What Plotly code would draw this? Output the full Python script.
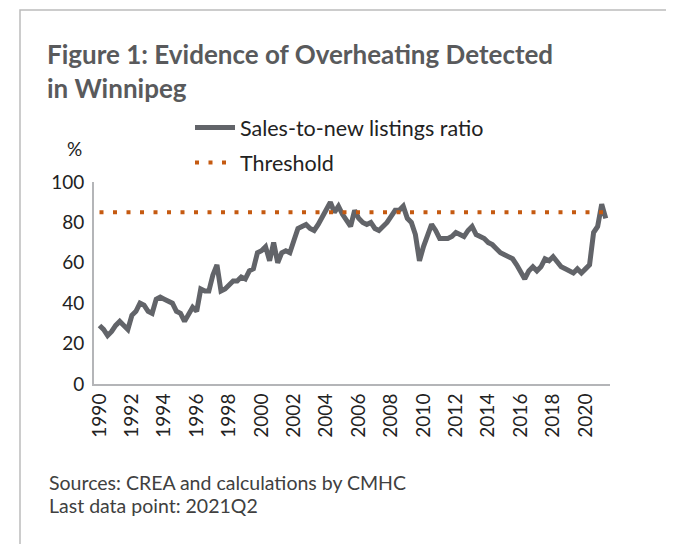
import plotly.graph_objects as go

# Quarterly sales-to-new listings ratio, Winnipeg, 1990Q1 - 2021Q2
quarters = [f"{y}Q{q}" for y in range(1990, 2022) for q in range(1, 5)][:126]
ratio = [
    29, 27, 24, 26,   # 1990
    29, 31, 29, 27,   # 1991
    34, 36, 40, 39,   # 1992
    36, 35, 42, 43,   # 1993
    42, 41, 40, 36,   # 1994
    35, 31, 34, 38,   # 1995
    36, 47, 46, 46,   # 1996
    54, 59, 46, 47,   # 1997
    49, 51, 51, 53,   # 1998
    52, 56, 57, 65,   # 1999
    66, 68, 61, 70,   # 2000
    60, 65, 66, 65,   # 2001
    71, 77, 78, 79,   # 2002
    77, 76, 79, 83,   # 2003
    86, 90, 85, 88,   # 2004
    84, 81, 78, 86,   # 2005
    82, 80, 79, 80,   # 2006
    77, 76, 78, 80,   # 2007
    83, 86, 86, 88,   # 2008
    82, 80, 74, 61,   # 2009
    68, 74, 79, 76,   # 2010
    72, 72, 72, 73,   # 2011
    75, 74, 73, 76,   # 2012
    78, 74, 73, 72,   # 2013
    70, 69, 67, 65,   # 2014
    64, 63, 62, 59,   # 2015
    55, 52, 56, 58,   # 2016
    56, 58, 62, 61,   # 2017
    63, 60, 58, 57,   # 2018
    56, 55, 57, 55,   # 2019
    57, 59, 75, 78,   # 2020
    89, 82,           # 2021
]
threshold_value = 85
threshold = [threshold_value] * len(ratio)
tick_years = list(range(1990, 2021, 2))
tick_labels = [str(y) for y in tick_years]
y_ticks = [0, 20, 40, 60, 80, 100]

# numeric time position for each quarter
xpos = [int(q[:4]) + (int(q[-1]) - 1) / 4 for q in quarters]

W, H = 674, 544
L, R, T, B = 86, 602, 174, 376
pw, ph = R - L, B - T
PX_PER_YEAR = 16.2
X_1990 = 91.5


def px(xp):
    return (xp - L) / pw


def py(yp):
    return (B - yp) / ph


FONT = "Lato"
GRAY_LINE = "#626469"
ORANGE = "#c55a11"

fig = go.Figure()
fig.add_trace(go.Scatter(
    x=xpos, y=ratio, mode="lines", name="Sales-to-new listings ratio",
    line=dict(color=GRAY_LINE, width=5), legendgroup="a",
))
fig.add_trace(go.Scatter(
    x=xpos, y=threshold, mode="lines", name="Threshold",
    line=dict(color=ORANGE, width=4, dash="4px,9.5px"), legendgroup="b",
))

x0 = 1990 - (X_1990 - L) / PX_PER_YEAR
x1 = 1990 + (R - X_1990) / PX_PER_YEAR

fig.update_layout(
    width=W, height=H,
    margin=dict(l=L, r=W - R, t=T, b=H - B),
    paper_bgcolor="white", plot_bgcolor="white",
    font=dict(family=FONT, color="#222222", size=19),
    showlegend=True,
    legend=dict(
        x=px(182), y=py(99), xanchor="left", yanchor="top",
        bgcolor="rgba(0,0,0,0)", font=dict(size=21.5, color="#222222"),
        tracegroupgap=4, itemwidth=40,
    ),
    title=dict(
        text="<b>Figure 1: Evidence of Overheating Detected<br>in Winnipeg</b>",
        xref="container", yref="container", x=39 / W, y=1 - 56 / H,
        xanchor="left", yanchor="top",
        font=dict(family=FONT, size=26, color="#595a5c"),
    ),
    xaxis=dict(
        range=[x0, x1], tickmode="array", tickvals=tick_years, ticktext=tick_labels,
        tickangle=-90, showgrid=False, zeroline=False, showline=True,
        linecolor="#b4b5b8", linewidth=2, ticks="", tickfont=dict(size=19),
    ),
    yaxis=dict(
        range=[0, 100], tickvals=y_ticks, showgrid=False, zeroline=False,
        showline=True, linecolor="#b4b5b8", linewidth=2, ticks="",
        tickfont=dict(size=19), ticklabelstandoff=4,
    ),
    annotations=[
        dict(text="%", xref="paper", yref="paper", x=px(57), y=py(127),
             showarrow=False, font=dict(size=19, color="#222222")),
        dict(text="Sources: CREA and calculations by CMHC", xref="paper", yref="paper",
             x=px(39), y=py(474), xanchor="left", yanchor="middle", showarrow=False,
             font=dict(size=19.5, color="#404040")),
        dict(text="Last data point: 2021Q2", xref="paper", yref="paper",
             x=px(39), y=py(497), xanchor="left", yanchor="middle", showarrow=False,
             font=dict(size=19.5, color="#404040")),
    ],
    shapes=[
        dict(type="rect", xref="paper", yref="paper",
             x0=px(12), x1=px(664), y0=py(548), y1=py(2),
             line=dict(color="#bcbcbc", width=1.5), layer="below"),
    ],
)

fig.write_html("out.html")
